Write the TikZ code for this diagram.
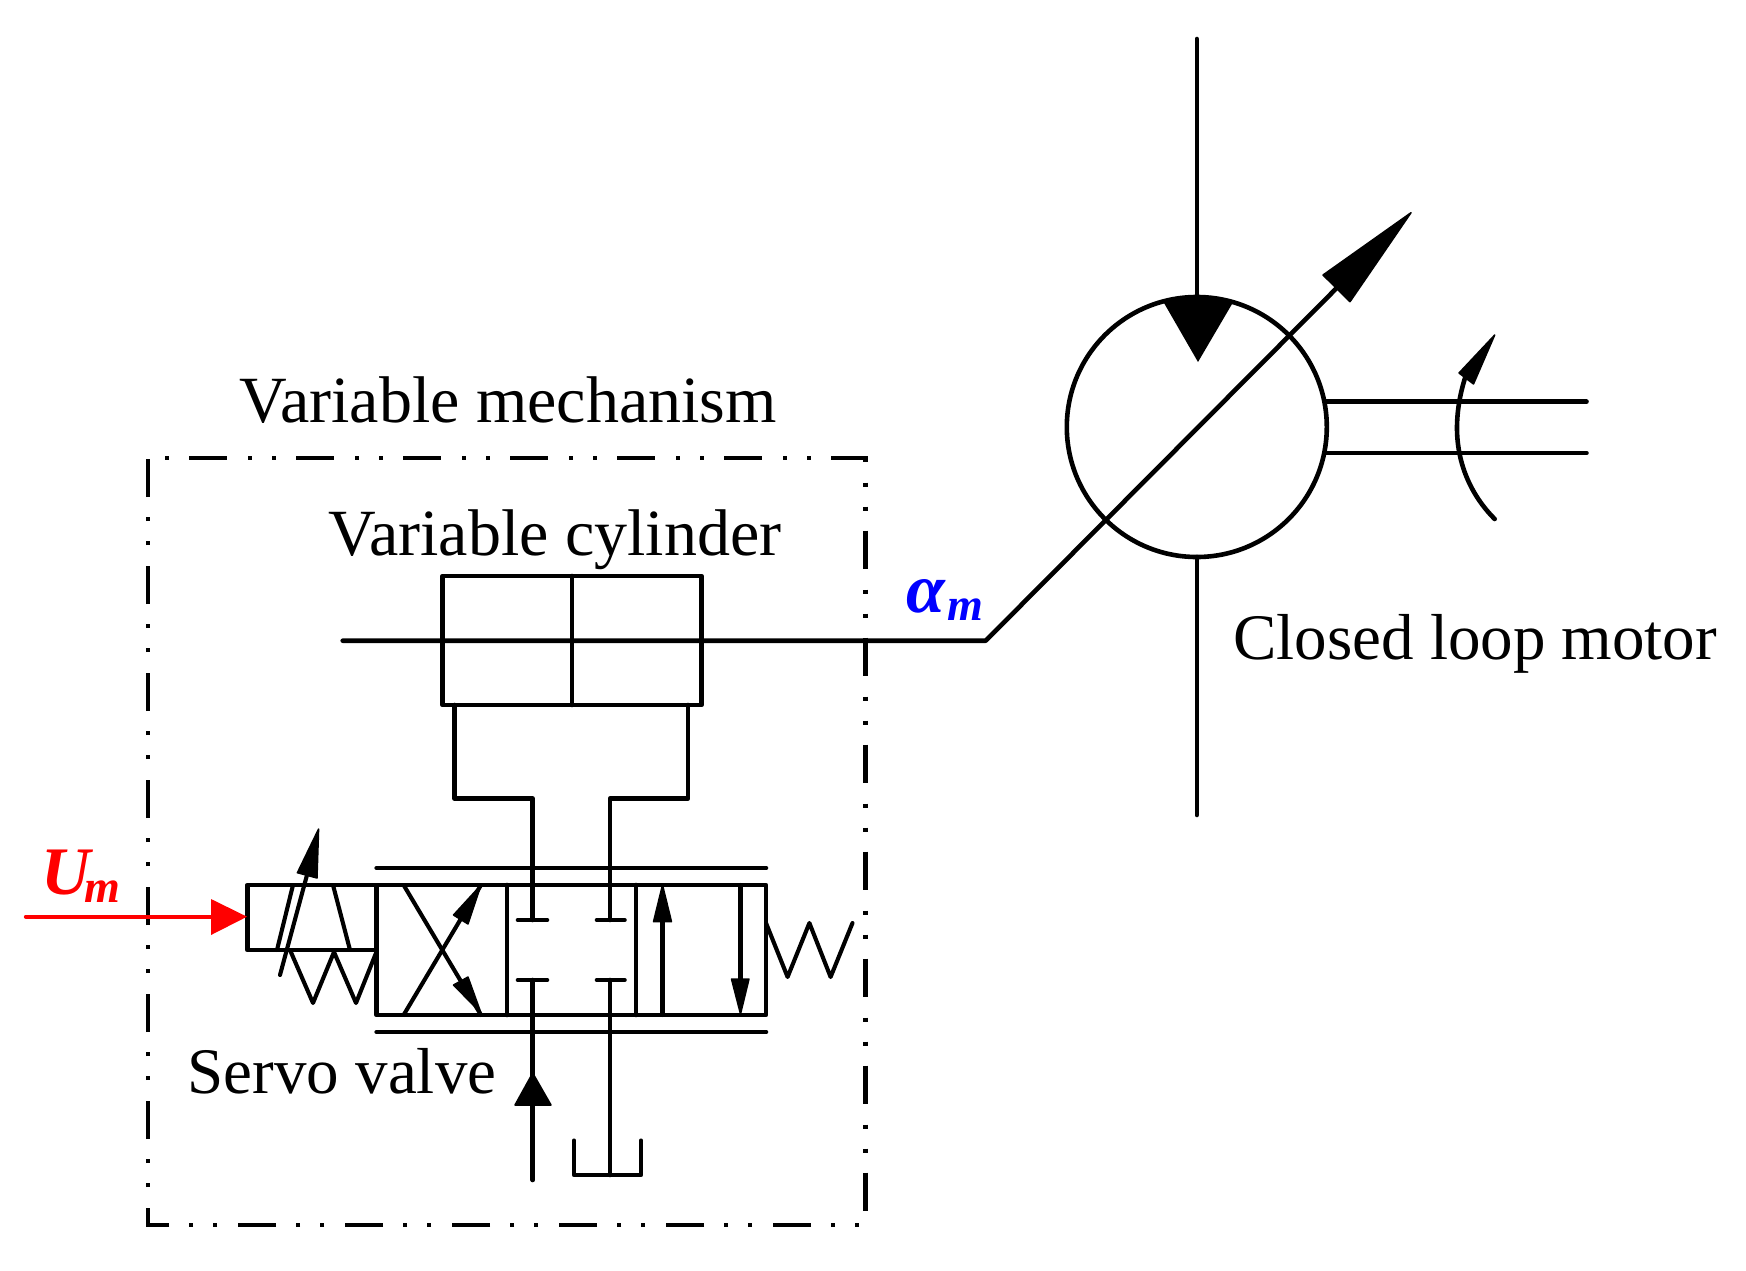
\documentclass[tikz,border=0pt]{standalone}
\usepackage{fontspec}
\setmainfont{Liberation Serif}
\definecolor{pureblue}{RGB}{0,0,255}
\definecolor{purered}{RGB}{255,0,0}
\tikzset{
  ln/.style={line width=4.6pt,line cap=round,line join=round,draw=black},
  thin ln/.style={line width=4.1pt,line cap=round,line join=round,draw=black},
  head/.style={fill=black,draw=black,line width=1.5pt,line join=round},
  frame/.style={line width=4.6pt,draw=black,line cap=butt,
    dash pattern=on 38pt off 21pt on 4pt off 20pt on 4pt off 20pt,dash phase=66pt},
  label/.style={inner sep=0pt,anchor=base west,font=\fontsize{66}{70}\selectfont},
  sym/.style={inner sep=0pt,anchor=base west},
}
\newcommand{\symb}[4]{{\fontsize{#3}{70}\selectfont\bfseries\itshape #1}\kern #4\raisebox{-8pt}{\fontsize{46}{48}\selectfont\bfseries\itshape #2}}
\begin{document}
\begin{tikzpicture}[x=1pt,y=-1pt]
\useasboundingbox (0,0) rectangle (1746,1270);

% texts
\node[label] (tMech) at (239.5,422.7) {Variable mechanism};
\node[label] (tCyl) at (328.5,555) {Variable cylinder};
\node[label,font=\fontsize{65}{70}\selectfont] (tServo) at (187.5,1093.5) {Servo valve};
\node[label,font=\fontsize{65}{70}\selectfont] (tMotor) at (1233,659) {Closed loop motor};
\node[sym,text=purered] (tU) at (41,894) {\symb{U}{m}{68}{-6pt}};
\node[sym,text=pureblue] (tA) at (906,612) {\symb{α}{m}{70}{3pt}};

% frame
\draw[frame] (148,458) -- (865.5,458) -- (865.5,1225) -- (148,1225) -- cycle;

% motor
\coordinate (mc) at (1196.8,427);
\draw[ln] (mc) circle[radius=130];
\coordinate (mTop) at (1196.8,297);
\coordinate (mBot) at (1196.8,557);
\coordinate (pTop) at (1196.8,39);
\coordinate (pBot) at (1196.8,815);
\draw[ln] (pTop) -- (mTop);
\draw[ln] (mBot) -- (pBot);
\fill[black] (1164,303) .. controls (1185,295) and (1210,295) .. (1232.6,303) -- (1198,362) -- cycle;
% swash line with arrow
\coordinate (rodL) at (342.7,640.7);
\coordinate (rodR) at (985.7,640.7);
\coordinate (swTip) at (1411,212.7);
\coordinate (swA) at (1323,275);
\coordinate (swB) at (1350,301.7);
\coordinate (swBase) at (1336.7,288);
\draw[ln] (rodL) -- (rodR) -- (swBase);
\draw[head] (swTip) -- (swA) -- (swB) -- cycle;
% shaft
\draw[ln] (1326,401.7) -- (1586.5,401.7);
\draw[ln] (1326,453) -- (1586.5,453);
% curved arrow
\draw[ln] (1494.7,519) .. controls (1470.3,494.6) and (1457,462.5) .. (1457,428)
   .. controls (1457,411) and (1460,394) .. (1465,378);
\draw[head] (1494.7,335) -- (1459,373) -- (1473.5,384) -- cycle;

% cylinder
\coordinate (cylTL) at (442.6,576);
\coordinate (cylBR) at (701.5,705);
\draw[ln] (cylTL) rectangle (cylBR);
\draw[ln] (571.8,576) -- (571.8,705);
\coordinate (pA) at (454.7,705);
\coordinate (pB) at (688,705);
\coordinate (pC) at (532.7,920);
\coordinate (pD) at (610,920);
\draw[ln] (pA) -- (454.7,798.5) -- (532.7,798.5) -- (pC);
\draw[ln] (pB) -- (688,798.5) -- (610,798.5) -- (pD);

% valve body
\draw[ln] (376.6,885) rectangle (766,1015);
\draw[ln] (376.6,868) -- (766,868);
\draw[ln] (376.6,1032) -- (766,1032);
\draw[ln] (507,885) -- (507,1015);
\draw[ln] (636,885) -- (636,1015);
% control box
\draw[ln] (376.6,885) -- (247.4,885) -- (247.4,950) -- (376.6,950);
\draw[thin ln] (293,885) -- (277,950);
\draw[thin ln] (333,885) -- (350,950);
% variable arrow
\draw[thin ln] (280,975) -- (307,875);
\draw[head] (318.6,829) -- (297.4,872.7) -- (317,878) -- cycle;
% springs
\draw[thin ln] (290,950) -- (313,1003) -- (334,952) -- (356,1003) -- (376,953);
\draw[thin ln] (766,923) -- (787.6,977) -- (809.4,923) -- (830.6,977) -- (852.5,923);
% crossed cell
\draw[thin ln] (403.6,885) -- (481,1015);
\draw[thin ln] (403.6,1015) -- (481,885);
\draw[head] (481,885) -- (453.5,915) -- (468,924) -- cycle;
\draw[head] (481,1013) -- (453.5,985) -- (468,977) -- cycle;
% T ports
\draw[ln] (518,920) -- (547,920);
\draw[ln] (597,920) -- (624.5,920);
\draw[ln] (518,980) -- (547,980);
\draw[ln] (597,980) -- (624.5,980);
% lower pipes
\coordinate (pE) at (532.7,980);
\coordinate (pF) at (610,980);
\coordinate (pG) at (532.7,1180);
\coordinate (pH) at (610,1175);
\draw[ln] (pE) -- (pG);
\draw[ln] (pF) -- (pH);
\draw[head] (532.7,1073) -- (515,1105) -- (551,1105) -- cycle;
% tank
\draw[ln] (574,1140.7) -- (574,1175) -- (641,1175) -- (641,1140.7);
% right cell
\draw[thin ln] (662.5,1015) -- (662.5,921);
\draw[head] (662.5,885) -- (653.5,921.7) -- (671.5,921.7) -- cycle;
\draw[thin ln] (740.5,885) -- (740.5,979);
\draw[head] (740.5,1014) -- (731.5,979) -- (749,979) -- cycle;

% red arrow
\coordinate (redS) at (26,916.7);
\coordinate (redE) at (211,916.7);
\draw[line width=4.4pt,line cap=round,draw=purered] (redS) -- (redE);
\fill[purered] (247,916.7) -- (211,899) -- (211,935) -- cycle;
\end{tikzpicture}
\end{document}
